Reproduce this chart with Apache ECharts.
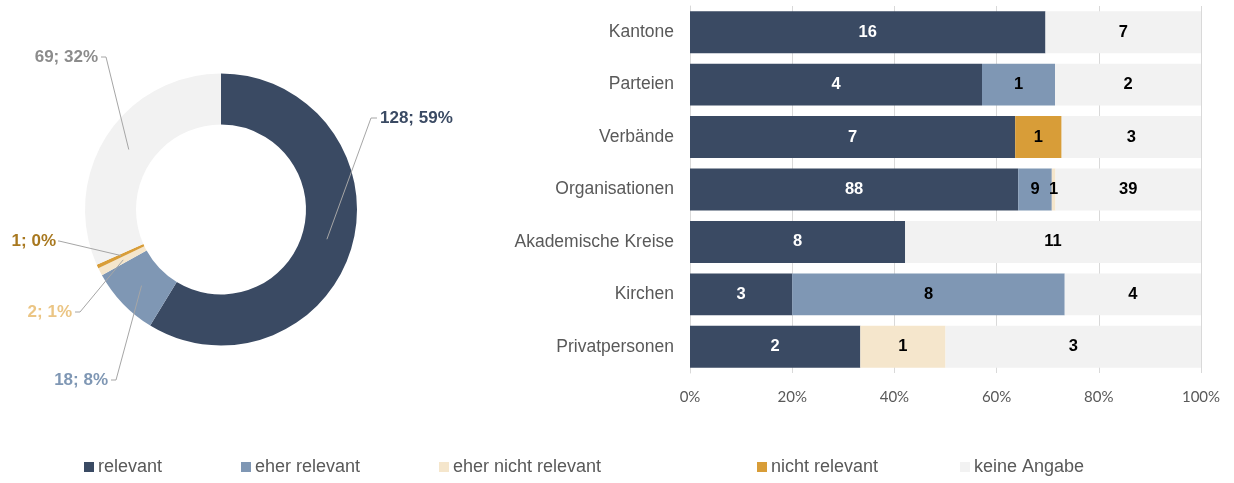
<!DOCTYPE html>
<html>
<head>
<meta charset="utf-8">
<script src="https://cdn.jsdelivr.net/npm/echarts@6/dist/echarts.min.js"></script>
<style>
	html, body { margin: 0; padding: 0; background: #fff; }
	#chart { width: 1234px; height: 483px; }
</style>
</head>
<body>
<div id="chart"></div>
<script>
	// Kategorien (von oben nach unten)
	var categories = ["Kantone", "Parteien", "Verbände", "Organisationen", "Akademische Kreise", "Kirchen", "Privatpersonen"];
	var seriesNames = ["relevant", "eher relevant", "eher nicht relevant", "nicht relevant", "keine Angabe"];

	// Anzahl Antworten je Kategorie
	var relevant = [16, 4, 7, 88, 8, 3, 2];
	var eherRelevant = [0, 1, 0, 9, 0, 8, 0];
	var eherNichtRelevant = [0, 0, 0, 1, 0, 0, 1];
	var nichtRelevant = [0, 0, 1, 0, 0, 0, 0];
	var keineAngabe = [7, 2, 3, 39, 11, 4, 3];

	// Donut: Total
	var donutValues = [128, 18, 2, 1, 69];

	var colors = ["#3A4A63", "#7F97B4", "#F5E6CC", "#D89D38", "#F2F2F2"];
	var pieLabelColors = ["#3A4A63", "#7F97B4", "#EBC584", "#A8781F", "#8C8C8C"];

	var counts = [relevant, eherRelevant, eherNichtRelevant, nichtRelevant, keineAngabe];

	var rowTotals = categories.map(function(c, i) {
		var s = 0;
		counts.forEach(function(arr) { s += arr[i]; });
		return s;
	});

	var pieCenter = [221, 209.5];
	var pieRadius = [85, 136];
	var midRadius = 110;
	var donutTotal = donutValues.reduce(function(a, b) { return a + b; }, 0);

	// Position der Beschriftungen (in Excel manuell verschoben)
	var pieLabelPos = [
		{ x: 380, y: 118, align: "left", elbow: 371, end: 377 },
		{ x: 108, y: 380, align: "right", elbow: 116, end: 111 },
		{ x: 72, y: 312, align: "right", elbow: 80, end: 75 },
		{ x: 56, y: 241, align: "right", elbow: 59, end: 58 },
		{ x: 98, y: 57, align: "right", elbow: 106, end: 101 }
	];

	function midAnchor(idx) {
		var cum = 0;
		for(var k = 0; k < idx; k++) cum += donutValues[k];
		var frac = (cum + donutValues[idx] / 2) / donutTotal;
		var ang = frac * Math.PI * 2;
		return [pieCenter[0] + Math.sin(ang) * midRadius, pieCenter[1] - Math.cos(ang) * midRadius];
	}

	var barSeries = seriesNames.map(function(name, si) {
		return {
			name: name,
			type: "bar",
			stack: "total",
			barCategoryGap: "20%",
			itemStyle: { color: colors[si] },
			label: {
				show: true,
				position: "inside",
				color: si === 0 ? "#fff" : "#000",
				fontFamily: "Liberation Sans, Arial",
				fontWeight: "bold",
				fontSize: 16.5,
				formatter: function(p) {
					var v = counts[si][p.dataIndex];
					return v ? String(v) : "";
				}
			},
			data: counts[si].map(function(v, i) { return v / rowTotals[i] * 100; })
		};
	});

	var legends = [
		{ name: "relevant", left: 84 },
		{ name: "eher relevant", left: 241 },
		{ name: "eher nicht relevant", left: 439 },
		{ name: "nicht relevant", left: 757 },
		{ name: "keine Angabe", left: 960 }
	].map(function(l) {
		return {
			data: [l.name],
			left: l.left,
			top: 458,
			icon: "rect",
			itemWidth: 10,
			itemHeight: 10,
			itemGap: 0,
			padding: 0,
			selectedMode: false,
			textStyle: { fontSize: 18, color: "#595959", fontFamily: "Liberation Sans, Arial", padding: [0, 0, 0, -1] }
		};
	});

	// Ring ohne Beschriftung
	var donut = {
		name: "Total",
		type: "pie",
		z: 2,
		center: pieCenter,
		radius: pieRadius,
		startAngle: 90,
		clockwise: true,
		silent: true,
		legendHoverLink: false,
		label: { show: false },
		labelLine: { show: false },
		data: seriesNames.map(function(n, i) {
			return { name: n, value: donutValues[i], itemStyle: { color: colors[i] } };
		})
	};

	// gleiche Werte, transparent, nur fuer Beschriftung + Fuehrungslinien ueber dem Ring
	var donutLabels = {
		name: "TotalLabels",
		type: "pie",
		z: 5,
		center: pieCenter,
		radius: pieRadius,
		startAngle: 90,
		clockwise: true,
		silent: true,
		legendHoverLink: false,
		itemStyle: { color: "rgba(0,0,0,0)" },
		label: {
			show: true,
			position: "outside",
			overflow: "none",
			fontFamily: "Liberation Sans, Arial",
			fontWeight: "bold",
			fontSize: 17,
			formatter: function(p) {
				return p.value + "; " + Math.round(p.percent) + "%";
			}
		},
		labelLine: { show: true, lineStyle: { color: "#A6A6A6", width: 1 } },
		labelLayout: function(p) {
			var pos = pieLabelPos[p.dataIndex];
			var a = midAnchor(p.dataIndex);
			return {
				x: pos.x,
				y: pos.y,
				align: pos.align,
				verticalAlign: "middle",
				labelLinePoints: [a, [pos.elbow, pos.y], [pos.end, pos.y]]
			};
		},
		data: seriesNames.map(function(n, i) {
			return {
				name: n,
				value: donutValues[i],
				itemStyle: { color: "rgba(0,0,0,0)" },
				label: { color: pieLabelColors[i] }
			};
		})
	};

	var chart = echarts.init(document.getElementById("chart"));
	var option = {
		animation: false,
		backgroundColor: "#fff",
		legend: legends,
		grid: { left: 690, right: 33, top: 6, height: 367, containLabel: false },
		xAxis: {
			type: "value",
			min: 0,
			max: 100,
			interval: 20,
			axisLine: { show: false },
			axisTick: { show: false },
			splitLine: { lineStyle: { color: "#D9D9D9" } },
			axisLabel: { formatter: "{value}%", color: "#595959", fontSize: 15, fontFamily: "Lato", margin: 17 }
		},
		yAxis: {
			type: "category",
			inverse: true,
			data: categories,
			axisLine: { show: true, lineStyle: { color: "#D9D9D9" } },
			axisTick: { show: false },
			axisLabel: { color: "#595959", fontSize: 17.5, fontFamily: "Liberation Sans, Arial", margin: 16 }
		},
		series: [donut, donutLabels].concat(barSeries)
	};
	chart.setOption(option);
</script>
</body>
</html>
